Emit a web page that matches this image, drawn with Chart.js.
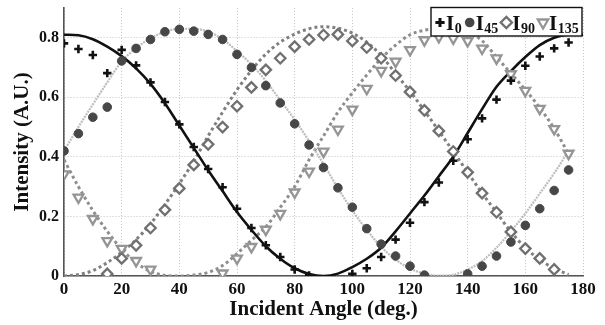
<!DOCTYPE html>
<html>
<head>
<meta charset="utf-8">
<script src="https://cdn.jsdelivr.net/npm/chart.js@4.4.0/dist/chart.umd.min.js"></script>
<style>
  html, body { margin: 0; padding: 0; background: #fff; }
</style>
</head>
<body>
<canvas id="chart" width="605" height="325"></canvas>
<script>
// ---------------------------------
// Datos
// ---------------------------------
const angles = [0, 5, 10, 15, 20, 25, 30, 35, 40, 45, 50, 55, 60, 65, 70, 75, 80, 85,
  90, 95, 100, 105, 110, 115, 120, 125, 130, 135, 140, 145, 150, 155, 160, 165, 170, 175];
const fitAngles = [0, 5, 10, 15, 20, 25, 30, 35, 40, 45, 50, 55, 60, 65, 70, 75, 80, 85,
  90, 95, 100, 105, 110, 115, 120, 125, 130, 135, 140, 145, 150, 155, 160, 165, 170, 175, 180];

const I0 = [0.781, 0.762, 0.742, 0.681, 0.759, 0.707, 0.650, 0.584, 0.509, 0.433, 0.359, 0.298,
  0.226, 0.161, 0.103, 0.064, 0.022, 0.002, null, null, 0.007, 0.026, 0.064, 0.122,
  0.179, 0.248, 0.314, 0.387, 0.459, 0.529, 0.592, 0.656, 0.706, 0.737, 0.764, 0.784];
const I45 = [0.420, 0.478, 0.533, 0.567, 0.722, 0.764, 0.794, 0.820, 0.828, 0.822, 0.811, 0.794,
  0.744, 0.700, 0.639, 0.581, 0.511, 0.440, 0.364, 0.296, 0.231, 0.159, 0.107, 0.067,
  0.033, 0.003, null, null, 0.007, 0.033, 0.067, 0.114, 0.170, 0.226, 0.287, 0.356];
const I90 = [null, null, null, 0.007, 0.059, 0.103, 0.161, 0.222, 0.294, 0.373, 0.442, 0.500,
  0.570, 0.633, 0.692, 0.731, 0.770, 0.794, 0.809, 0.811, 0.789, 0.767, 0.731, 0.673,
  0.618, 0.556, 0.487, 0.418, 0.348, 0.278, 0.214, 0.148, 0.092, 0.059, 0.022, null];
const I135 = [0.342, 0.264, 0.192, 0.118, 0.092, 0.051, 0.022, null, null, null, null, 0.009,
  0.059, 0.098, 0.156, 0.209, 0.281, 0.351, 0.418, 0.492, 0.559, 0.629, 0.689, 0.720,
  0.759, 0.792, 0.803, 0.798, 0.789, 0.764, 0.731, 0.678, 0.622, 0.562, 0.494, 0.411];

// curvas de ajuste
const fitI0 = [0.810, 0.808, 0.795, 0.770, 0.738, 0.697, 0.645, 0.580, 0.505, 0.430, 0.355, 0.285,
  0.215, 0.155, 0.100, 0.058, 0.026, 0.007, 0.000, 0.008, 0.030, 0.058, 0.095, 0.150,
  0.210, 0.270, 0.335, 0.400, 0.480, 0.560, 0.635, 0.688, 0.735, 0.775, 0.800, 0.810, 0.810];
const fitI45 = [0.420, 0.500, 0.576, 0.650, 0.720, 0.765, 0.798, 0.820, 0.830, 0.830, 0.820, 0.795,
  0.755, 0.710, 0.655, 0.590, 0.525, 0.453, 0.376, 0.295, 0.220, 0.155, 0.098, 0.055,
  0.025, 0.008, 0.001, 0.004, 0.022, 0.050, 0.095, 0.150, 0.210, 0.277, 0.345, 0.420];
const fitI90 = [0.000, 0.005, 0.018, 0.045, 0.080, 0.122, 0.175, 0.240, 0.310, 0.385, 0.470, 0.550,
  0.625, 0.690, 0.745, 0.785, 0.812, 0.830, 0.837, 0.832, 0.815, 0.785, 0.740, 0.680,
  0.620, 0.555, 0.487, 0.418, 0.348, 0.278, 0.214, 0.148, 0.095, 0.055, 0.025, 0.005];
const fitI135 = [0.390, 0.300, 0.220, 0.150, 0.090, 0.045, 0.015, 0.002, 0.000, 0.003, 0.012, 0.035,
  0.075, 0.120, 0.165, 0.230, 0.300, 0.390, 0.470, 0.550, 0.615, 0.675, 0.730, 0.775,
  0.810, 0.825, 0.830, 0.830, 0.820, 0.790, 0.735, 0.680, 0.625, 0.565, 0.495, 0.410];

const yTicks = [0, 0.2, 0.4, 0.6, 0.8];
const legendNames = ["0", "45", "90", "135"];

const SERIF = '"Liberation Serif", "Times New Roman", serif';

const toPoints = (xs, ys) => xs.map((x, i) => ({ x: x, y: ys[i] }));

// estilos de marcadores
const mk = {
  I0:   { pointStyle: "cross",    radius: 4.2, color: "#111", fill: "#111", width: 2.6 },
  I45:  { pointStyle: "circle",   radius: 4.3, color: "#474747", fill: "#474747", width: 1 },
  I90:  { pointStyle: "rectRot",  radius: 5.2, color: "#707070", fill: "#fff", width: 2.3 },
  I135: { pointStyle: "triangle", radius: 5.6, color: "#959595", fill: "#fff", width: 2.3 }
};

function markerSet(name, data) {
  const s = mk[name];
  return {
    label: name,
    data: toPoints(angles, data),
    showLine: false,
    pointStyle: s.pointStyle,
    pointRadius: s.radius,
    pointBorderColor: s.color,
    pointBackgroundColor: s.fill,
    pointBorderWidth: s.width,
    pointRotation: name === "I135" ? 180 : 0,
    order: 1
  };
}

function fitSet(xs, data, color, width, dash) {
  return {
    label: "fit",
    data: toPoints(xs, data),
    showLine: true,
    borderColor: color,
    borderWidth: width,
    borderDash: dash,
    pointRadius: 0,
    cubicInterpolationMode: "monotone",
    fill: false,
    order: 5
  };
}

// -------------------------------------
// Leyenda dibujada a mano (subíndices)
// -------------------------------------
function drawMarker(ctx, name, x, y) {
  const s = mk[name];
  ctx.save();
  ctx.strokeStyle = s.color;
  ctx.fillStyle = s.fill;
  ctx.lineWidth = s.width;
  ctx.beginPath();
  if (name === "I0") {
    const r = 4.6;
    ctx.lineWidth = 3;
    ctx.moveTo(x - r, y); ctx.lineTo(x + r, y);
    ctx.moveTo(x, y - r); ctx.lineTo(x, y + r);
    ctx.stroke();
  } else if (name === "I45") {
    ctx.arc(x, y, 4.8, 0, Math.PI * 2);
    ctx.fill();
  } else if (name === "I90") {
    const r = 5.6;
    ctx.moveTo(x, y - r); ctx.lineTo(x + r, y); ctx.lineTo(x, y + r); ctx.lineTo(x - r, y);
    ctx.closePath();
    ctx.fill(); ctx.stroke();
  } else {
    const r = 6;
    ctx.moveTo(x - r * 0.87, y - r * 0.5); ctx.lineTo(x + r * 0.87, y - r * 0.5); ctx.lineTo(x, y + r);
    ctx.closePath();
    ctx.fill(); ctx.stroke();
  }
  ctx.restore();
}

const legendPlugin = {
  id: "subLegend",
  afterDraw(chart) {
    const ctx = chart.ctx;
    const box = { x: 431, y: 7.5, w: 151, h: 28.5 };
    ctx.save();
    ctx.fillStyle = "#fff";
    ctx.fillRect(box.x, box.y, box.w, box.h);
    ctx.strokeStyle = "#111";
    ctx.lineWidth = 1.4;
    ctx.strokeRect(box.x, box.y, box.w, box.h);

    const names = ["I0", "I45", "I90", "I135"];
    let x = box.x + 4;
    const yMid = 22.5;
    ctx.fillStyle = "#111";
    ctx.textBaseline = "alphabetic";
    names.forEach((n, i) => {
      drawMarker(ctx, n, x + 5, yMid);
      x += 11;
      ctx.font = "bold 21px " + SERIF;
      ctx.fillStyle = "#111";
      ctx.fillText("I", x, 30);
      x += ctx.measureText("I").width + 0.5;
      ctx.font = "bold 14px " + SERIF;
      ctx.fillText(legendNames[i], x, 33);
      x += ctx.measureText(legendNames[i]).width + 3;
    });
    ctx.restore();
  }
};

new Chart(document.getElementById("chart"), {
  type: "scatter",
  data: {
    datasets: [
      markerSet("I0", I0),
      markerSet("I45", I45),
      markerSet("I90", I90),
      markerSet("I135", I135),
      fitSet(fitAngles, fitI0, "#111", 2.6, []),
      fitSet(angles, fitI45, "#bdbdbd", 2.2, [2, 1]),
      fitSet(angles, fitI90, "#808080", 3, [3, 3]),
      fitSet(angles, fitI135, "#8e8e8e", 3, [3, 3])
    ]
  },
  options: {
    responsive: false,
    animation: false,
    layout: { padding: { top: 5, right: 22, left: 0, bottom: 0 } },
    plugins: {
      legend: { display: false },
      tooltip: { enabled: false }
    },
    scales: {
      x: {
        type: "linear",
        min: 0,
        max: 180,
        ticks: {
          stepSize: 20,
          color: "#111",
          padding: 3,
          maxRotation: 0,
          font: { family: SERIF, size: 17, weight: "bold" }
        },
        grid: { color: "#c4c4c4", lineWidth: 1, drawTicks: false },
        border: { color: "#555", width: 1.6, dash: [1, 2] },
        title: {
          display: true,
          text: "Incident Angle (deg.)",
          color: "#111",
          padding: { top: 0, bottom: 3 },
          font: { family: SERIF, size: 21, weight: "bold" }
        },
        afterFit(scale) {
          scale.height = 49;
          scale.paddingLeft = 0;
          scale.paddingRight = 0;
        }
      },
      y: {
        type: "linear",
        min: 0,
        max: 0.9,
        afterBuildTicks(axis) { axis.ticks = yTicks.map(v => ({ value: v })); },
        ticks: {
          color: "#111",
          padding: 5,
          font: { family: SERIF, size: 16, weight: "bold" },
          callback: v => (v === 0 ? "0" : v.toFixed(1))
        },
        grid: { color: "#c4c4c4", lineWidth: 1, drawTicks: false },
        border: { color: "#555", width: 1.6, dash: [1, 2] },
        title: {
          display: true,
          text: "Intensity (A.U.)",
          color: "#111",
          padding: { top: 10, bottom: 0 },
          font: { family: SERIF, size: 21, weight: "bold" }
        },
        afterFit(scale) {
          scale.width = 64;
          scale.paddingTop = 0;
          scale.paddingBottom = 0;
        }
      }
    }
  },
  plugins: [legendPlugin]
});
</script>
</body>
</html>
